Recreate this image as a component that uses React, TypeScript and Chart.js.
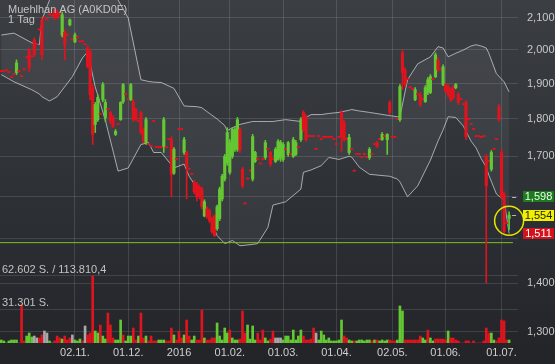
import React, { useEffect, useRef } from 'react';
import { Chart, registerables } from 'chart.js';

Chart.register(...registerables);

// ---------- DATA ----------
const title = 'Muehlhan AG (A0KD0F)';
const subtitle = '1 Tag';

const tickIdx = [29, 50, 70, 90, 111, 132, 154, 175, 197];
const tickLabels = ['02.11.', '01.12.', '2016', '01.02.', '01.03.', '01.04.', '02.05.', '01.06.', '01.07.'];

const priceTicks = [1.3, 1.4, 1.5, 1.6, 1.7, 1.8, 1.9, 2.0, 2.1];
const hiddenPriceLabels = [1.5, 1.6];

const volTicks = [31301, 62602];
const volLabels = ['31.301 S.', '62.602 S. / 113.810,4'];

const supportLevel = 1.49;

const openP = [
  1.935, 1.935, 1.938, 1.932, 1.917, 1.926, 1.932, 1.935, 1.920, 1.940,
  1.976, 2.000, 1.979, 2.031, 2.016, 2.062, 2.094, 2.100, 2.094, 2.110,
  2.107, 2.126, 2.119, 2.110, 2.046, 2.055, 2.046, 2.078, 2.031, 2.025,
  2.037, 2.025, 2.025, 2.016, 2.006, 1.994, 1.888, 1.785, 1.798, 1.812,
  1.854, 1.804, 1.826, 1.818, 1.804, 1.758, 1.785, 1.798, 1.848, 1.868,
  1.854, 1.854, 1.848, 1.826, 1.793, 1.818, 1.771, 1.736, 1.731, 1.726,
  1.793, 1.723, 1.723, 1.723, 1.726, 1.723, 1.744, 1.744, 1.657, 1.692,
  1.771, 1.771, 1.710, 1.710, 1.667, 1.654, 1.634, 1.630, 1.622, 1.617,
  1.552, 1.569, 1.564, 1.546, 1.552, 1.522, 1.546, 1.593, 1.642, 1.684,
  1.659, 1.700, 1.718, 1.718, 1.771, 1.667, 1.581, 1.642, 1.662, 1.642,
  1.687, 1.692, 1.680, 1.692, 1.697, 1.718, 1.710, 1.692, 1.687, 1.692,
  1.697, 1.692, 1.718, 1.705, 1.705, 1.700, 1.705, 1.723, 1.744, 1.818,
  1.806, 1.752, 1.752, 1.752, 1.718, 1.752, 1.744, 1.750, 1.750, 1.750,
  1.750, 1.744, 1.731, 1.750, 1.818, 1.790, 1.744, 1.710, 1.718, 1.662,
  1.705, 1.705, 1.697, 1.705, 1.697, 1.697, 1.705, 1.731, 1.736, 1.744,
  1.744, 1.752, 1.744, 1.846, 1.750, 1.750, 1.798, 1.798, 1.991, 1.940,
  1.911, 1.888, 1.882, 1.854, 1.868, 1.868, 1.854, 1.848, 1.874, 1.874,
  1.911, 1.920, 1.970, 1.940, 1.897, 1.897, 1.891, 1.882, 1.888, 1.888,
  1.868, 1.854, 1.840, 1.846, 1.798, 1.785, 1.771, 1.752, 1.752, 1.750,
  1.752, 1.700, 1.687, 1.667, 1.718, 1.744, 1.834, 1.710, 1.605, 1.534,
  1.546,
];

const highP = [
  1.935, 1.935, 1.938, 1.932, 1.917, 1.926, 1.970, 1.935, 1.920, 1.940,
  1.976, 2.006, 1.979, 2.037, 2.016, 2.062, 2.100, 2.100, 2.094, 2.110,
  2.107, 2.132, 2.126, 2.110, 2.119, 2.062, 2.046, 2.097, 2.031, 2.052,
  2.037, 2.025, 2.025, 2.016, 2.013, 2.000, 1.897, 1.846, 1.868, 1.812,
  1.903, 1.854, 1.826, 1.821, 1.809, 1.771, 1.785, 1.848, 1.900, 1.868,
  1.854, 1.900, 1.854, 1.829, 1.793, 1.821, 1.776, 1.804, 1.731, 1.726,
  1.793, 1.723, 1.723, 1.723, 1.804, 1.723, 1.744, 1.752, 1.723, 1.692,
  1.771, 1.771, 1.750, 1.713, 1.667, 1.654, 1.639, 1.634, 1.627, 1.622,
  1.591, 1.574, 1.569, 1.550, 1.555, 1.578, 1.622, 1.654, 1.705, 1.776,
  1.744, 1.776, 1.776, 1.804, 1.776, 1.672, 1.581, 1.642, 1.662, 1.758,
  1.713, 1.692, 1.680, 1.692, 1.742, 1.718, 1.713, 1.692, 1.723, 1.744,
  1.742, 1.736, 1.718, 1.739, 1.705, 1.750, 1.742, 1.723, 1.804, 1.823,
  1.812, 1.752, 1.752, 1.752, 1.718, 1.752, 1.744, 1.750, 1.750, 1.750,
  1.750, 1.744, 1.731, 1.750, 1.823, 1.796, 1.744, 1.758, 1.718, 1.662,
  1.705, 1.705, 1.697, 1.705, 1.697, 1.723, 1.705, 1.731, 1.739, 1.744,
  1.763, 1.752, 1.760, 1.851, 1.750, 1.750, 1.798, 1.897, 2.000, 1.946,
  1.911, 1.888, 1.882, 1.888, 1.868, 1.874, 1.854, 1.894, 1.917, 1.926,
  1.911, 1.991, 1.976, 1.940, 1.955, 1.900, 1.897, 1.888, 1.894, 1.900,
  1.874, 1.854, 1.840, 1.851, 1.798, 1.785, 1.771, 1.752, 1.752, 1.750,
  1.752, 1.705, 1.687, 1.715, 1.718, 1.744, 1.840, 1.718, 1.610, 1.534,
  1.562,
];

const lowP = [
  1.935, 1.935, 1.938, 1.932, 1.917, 1.926, 1.926, 1.935, 1.920, 1.940,
  1.976, 1.935, 1.979, 1.979, 2.016, 2.062, 1.970, 2.100, 2.094, 2.110,
  2.107, 2.094, 2.100, 2.110, 2.040, 1.970, 2.046, 2.075, 2.031, 2.022,
  2.037, 2.025, 2.025, 2.016, 1.946, 1.854, 1.731, 1.763, 1.793, 1.812,
  1.848, 1.793, 1.826, 1.787, 1.776, 1.755, 1.785, 1.796, 1.843, 1.868,
  1.854, 1.851, 1.793, 1.796, 1.793, 1.758, 1.736, 1.731, 1.731, 1.726,
  1.793, 1.723, 1.723, 1.723, 1.710, 1.723, 1.744, 1.598, 1.654, 1.692,
  1.771, 1.771, 1.705, 1.593, 1.667, 1.654, 1.605, 1.588, 1.593, 1.569,
  1.550, 1.546, 1.536, 1.511, 1.504, 1.518, 1.541, 1.588, 1.637, 1.677,
  1.654, 1.695, 1.713, 1.713, 1.710, 1.620, 1.581, 1.642, 1.662, 1.637,
  1.684, 1.692, 1.680, 1.692, 1.692, 1.718, 1.674, 1.692, 1.684, 1.690,
  1.687, 1.687, 1.718, 1.700, 1.705, 1.697, 1.702, 1.723, 1.739, 1.766,
  1.739, 1.752, 1.752, 1.752, 1.718, 1.752, 1.744, 1.750, 1.750, 1.750,
  1.750, 1.744, 1.731, 1.750, 1.713, 1.739, 1.744, 1.705, 1.718, 1.662,
  1.705, 1.705, 1.697, 1.705, 1.697, 1.692, 1.705, 1.731, 1.723, 1.744,
  1.742, 1.752, 1.705, 1.812, 1.750, 1.750, 1.798, 1.793, 1.882, 1.891,
  1.911, 1.888, 1.882, 1.851, 1.868, 1.834, 1.854, 1.846, 1.868, 1.871,
  1.911, 1.917, 1.935, 1.940, 1.894, 1.874, 1.862, 1.848, 1.854, 1.885,
  1.840, 1.854, 1.840, 1.744, 1.798, 1.785, 1.771, 1.752, 1.752, 1.750,
  1.752, 1.401, 1.687, 1.662, 1.718, 1.744, 1.793, 1.593, 1.511, 1.534,
  1.520,
];

const closeP = [
  1.935, 1.935, 1.938, 1.932, 1.917, 1.926, 1.961, 1.935, 1.920, 1.940,
  1.976, 1.946, 1.979, 1.985, 2.016, 2.062, 1.985, 2.100, 2.094, 2.110,
  2.107, 2.100, 2.100, 2.110, 2.110, 2.016, 2.046, 2.094, 2.031, 2.046,
  2.037, 2.025, 2.025, 2.016, 1.949, 1.868, 1.758, 1.840, 1.860, 1.812,
  1.897, 1.846, 1.826, 1.793, 1.779, 1.766, 1.785, 1.846, 1.897, 1.868,
  1.854, 1.897, 1.798, 1.798, 1.793, 1.763, 1.739, 1.798, 1.731, 1.726,
  1.793, 1.723, 1.723, 1.723, 1.798, 1.723, 1.744, 1.654, 1.718, 1.692,
  1.771, 1.771, 1.744, 1.674, 1.667, 1.654, 1.610, 1.598, 1.598, 1.574,
  1.586, 1.550, 1.541, 1.515, 1.506, 1.574, 1.617, 1.649, 1.700, 1.763,
  1.736, 1.771, 1.771, 1.798, 1.718, 1.625, 1.581, 1.642, 1.662, 1.752,
  1.710, 1.692, 1.680, 1.692, 1.736, 1.718, 1.680, 1.692, 1.718, 1.739,
  1.736, 1.731, 1.718, 1.736, 1.705, 1.744, 1.736, 1.723, 1.798, 1.771,
  1.744, 1.752, 1.752, 1.752, 1.718, 1.752, 1.744, 1.750, 1.750, 1.750,
  1.750, 1.744, 1.731, 1.750, 1.750, 1.744, 1.744, 1.750, 1.718, 1.662,
  1.705, 1.705, 1.697, 1.705, 1.697, 1.718, 1.705, 1.731, 1.726, 1.744,
  1.758, 1.752, 1.758, 1.818, 1.750, 1.750, 1.798, 1.891, 1.932, 1.897,
  1.911, 1.888, 1.882, 1.882, 1.868, 1.840, 1.854, 1.888, 1.911, 1.920,
  1.911, 1.985, 1.940, 1.940, 1.949, 1.877, 1.868, 1.854, 1.860, 1.897,
  1.846, 1.854, 1.840, 1.752, 1.798, 1.785, 1.771, 1.752, 1.752, 1.750,
  1.752, 1.625, 1.687, 1.710, 1.718, 1.744, 1.798, 1.598, 1.515, 1.534,
  1.554,
];

const volume = [
  2800, 1900, 0, 1900, 2800, 2800, 2800, 0, 35500, 1900,
  6500, 9300, 5600, 6500, 4700, 4700, 7500, 11200, 9300, 1900,
  0, 1900, 6500, 4700, 3700, 6500, 2800, 4700, 7500, 2800,
  1900, 3700, 1900, 15900, 7500, 9300, 62602, 11200, 9300, 16800,
  6500, 3700, 28000, 16800, 4700, 2800, 2800, 21500, 7500, 1900,
  6500, 6500, 14000, 2800, 6500, 28000, 4700, 6500, 1900, 6500,
  1900, 1900, 2800, 2800, 2800, 1900, 1900, 14000, 7500, 2800,
  11200, 4700, 7500, 21500, 6500, 2800, 6500, 2800, 2800, 30800,
  4700, 2800, 2800, 4700, 4700, 18700, 6500, 2800, 14000, 9300,
  12100, 4700, 2800, 2800, 3700, 29900, 9300, 16800, 3700, 15900,
  2800, 9300, 2800, 12100, 4700, 1900, 3700, 11200, 4700, 4700,
  4700, 2800, 6500, 6500, 2800, 12100, 2800, 6500, 12100, 6500,
  2800, 2800, 3700, 14000, 9300, 2800, 11200, 7500, 2800, 4700,
  1900, 1900, 1900, 2800, 21500, 6500, 4700, 2800, 1900, 1900,
  1900, 2800, 2800, 1900, 2800, 2800, 1900, 2800, 2800, 1900,
  2800, 1900, 2800, 2800, 1900, 1900, 2800, 34600, 29900, 2800,
  2800, 2800, 2800, 2800, 2800, 6500, 4700, 2800, 12100, 4700,
  1900, 3700, 3700, 3700, 3700, 2800, 11200, 4700, 4700, 2800,
  1900, 0, 0, 1900, 1900, 0, 1900, 0, 0, 0,
  1900, 14000, 9300, 9300, 2800, 1900, 4700, 21500, 20600, 2800,
  2800,
];

// 1 = up (green), -1 = down (red), 0 = unchanged (grey)
const volDir = [
  1, 1, 1, 1, 1, 1, 1, -1, -1, -1,
  1, 1, 1, 0, 0, -1, -1, 0, 0, 1,
  1, -1, -1, -1, 1, -1, -1, -1, 0, 1,
  1, 1, -1, 0, -1, -1, -1, 1, 1, -1,
  1, 1, -1, -1, -1, 1, 1, 1, -1, 1,
  1, 1, -1, -1, 1, -1, -1, 1, -1, -1,
  -1, -1, 1, 1, 1, -1, -1, -1, 1, -1,
  -1, -1, 1, -1, -1, 1, 1, -1, -1, -1,
  1, -1, -1, -1, -1, 1, 1, 1, 1, 1,
  -1, 1, 1, 1, -1, -1, -1, 1, 1, 1,
  1, -1, -1, -1, 1, 1, -1, -1, 0, 0,
  0, 1, 1, 1, 1, 1, 1, 1, 1, -1,
  -1, -1, -1, -1, 0, 1, 1, 1, 1, 1,
  1, 1, 1, 1, 1, -1, -1, 1, 1, -1,
  1, 1, 1, 1, 1, 1, -1, 1, -1, 1,
  1, 1, 1, -1, -1, -1, 1, 1, 1, -1,
  -1, -1, -1, -1, -1, -1, 1, 1, -1, 1,
  1, -1, -1, -1, -1, -1, 1, -1, -1, -1,
  -1, -1, -1, -1, -1, -1, -1, -1, -1, -1,
  -1, -1, -1, 1, 1, -1, -1, -1, -1, -1,
  1,
];

// Bollinger band read at selected days
const bandIdx = [
  0, 5, 12, 15, 16, 19, 22, 28, 32, 34, 37, 41, 46, 50, 55, 58, 60, 63, 68, 72,
  74, 77, 79, 82, 85, 88, 89, 91, 94, 99, 101, 105, 107, 112, 118, 119, 122, 126, 129, 133,
  137, 138, 141, 145, 153, 156, 157, 160, 164, 169, 172, 174, 176, 179, 182, 185, 187, 189, 191, 192,
  195, 198, 200,
];
const bandUpper = [
  2.046, 2.052, 2.022, 2.016, 2.094, 2.158, 2.230, 2.290, 2.300, 2.290, 2.280, 2.250, 2.158, 2.100, 1.911, 1.906, 1.904, 1.903, 1.886, 1.836,
  1.835, 1.834, 1.831, 1.815, 1.800, 1.782, 1.768, 1.776, 1.785, 1.793, 1.793, 1.793, 1.793, 1.798, 1.793, 1.800, 1.812, 1.812, 1.815, 1.818,
  1.824, 1.826, 1.822, 1.818, 1.809, 1.806, 1.806, 1.911, 1.958, 1.979, 2.010, 2.006, 1.979, 1.990, 2.000, 2.012, 2.016, 2.012, 2.006, 1.990,
  1.929, 1.905, 1.876,
];
const bandLower = [
  1.926, 1.905, 1.882, 1.870, 1.862, 1.850, 1.862, 1.920, 1.976, 1.994, 1.890, 1.796, 1.662, 1.670, 1.731, 1.736, 1.710, 1.710, 1.670, 1.680,
  1.649, 1.620, 1.595, 1.552, 1.506, 1.488, 1.490, 1.495, 1.483, 1.486, 1.488, 1.525, 1.578, 1.586, 1.617, 1.659, 1.665, 1.676, 1.697, 1.692,
  1.700, 1.698, 1.672, 1.654, 1.649, 1.642, 1.635, 1.598, 1.625, 1.690, 1.740, 1.770, 1.806, 1.804, 1.780, 1.740, 1.722, 1.694, 1.672, 1.652,
  1.605, 1.590, 1.511,
];

const badges = [
  { value: 1.598, bg: '#1d7a1d', fg: '#eaffea', mark: true },
  { value: 1.554, bg: '#f0f000', fg: '#222222', mark: true },
  { value: 1.511, bg: '#d3121c', fg: '#ffffff', mark: false },
];

// ---------- STYLE ----------
const GREEN = '#64c832';
const RED = '#e0141e';
const GREY = '#a8a8a8';
const BAND = 'rgba(205,208,212,0.75)';
const GRID = 'rgba(255,255,255,0.12)';
const FONT = 'Arial, "Liberation Sans", sans-serif';

const fmtPrice = (v: number) => v.toFixed(3).replace('.', ',');

const decorPlugin = {
  id: 'decor',
  beforeDraw(chart: any) {
    const { ctx, width, height } = chart;
    const g = ctx.createLinearGradient(0, 0, 0, height);
    g.addColorStop(0, '#3b3f44');
    g.addColorStop(0.55, '#2d3035');
    g.addColorStop(1, '#222428');
    ctx.save();
    ctx.fillStyle = g;
    ctx.fillRect(0, 0, width, height);
    ctx.restore();
  },
  afterDraw(chart: any) {
    const { ctx, scales, chartArea } = chart;
    const x = scales.x;
    const y = scales.y;
    const y2 = scales.y2;
    ctx.save();
    ctx.font = '11px ' + FONT;
    ctx.fillStyle = '#c2c2c2';
    ctx.textAlign = 'left';
    ctx.textBaseline = 'alphabetic';
    ctx.fillText(title, 8, 13);
    ctx.fillText(subtitle, 8, 23);
    volTicks.forEach((v, k) => {
      ctx.fillText(volLabels[k], 2, y2.getPixelForValue(v) - 3);
    });

    const last = closeP.length - 1;
    const cx = x.getPixelForValue(last);
    const cy = y.getPixelForValue(Math.sqrt(highP[last] * lowP[last]));
    ctx.strokeStyle = '#e4e400';
    ctx.lineWidth = 1.5;
    ctx.beginPath();
    ctx.arc(cx, cy, 14.5, 0, Math.PI * 2);
    ctx.stroke();

    badges.forEach((b) => {
      const py = y.getPixelForValue(b.value);
      if (b.mark) {
        ctx.strokeStyle = '#b8b8b8';
        ctx.lineWidth = 1;
        ctx.beginPath();
        ctx.moveTo(cx + 3, Math.round(py) + 0.5);
        ctx.lineTo(cx + 7, Math.round(py) + 0.5);
        ctx.stroke();
      }
      const bx = chartArea.right + 5;
      ctx.fillStyle = b.bg;
      ctx.fillRect(bx, Math.round(py - 5.5), 31, 11);
      ctx.fillStyle = b.fg;
      ctx.textAlign = 'center';
      ctx.textBaseline = 'middle';
      ctx.fillText(fmtPrice(b.value), bx + 15.5, py + 0.5);
    });
    ctx.restore();
  },
};

export default function App() {
  const ref = useRef<HTMLCanvasElement>(null);

  useEffect(() => {
    document.body.style.margin = '0';
    const canvas = ref.current as HTMLCanvasElement;
    const idx = closeP.map((_, i) => i);
    const candleColor = idx.map((i) => (closeP[i] > openP[i] ? GREEN : RED));
    const volColor = volDir.map((d) => (d > 0 ? GREEN : d < 0 ? RED : GREY));
    const lastIdx = closeP.length - 1;

    const chart = new Chart(canvas, {
      type: 'bar',
      data: {
        datasets: [
          {
            type: 'line',
            label: 'BB oben',
            data: bandIdx.map((v, k) => ({ x: v, y: bandUpper[k] })),
            borderColor: BAND,
            borderWidth: 1,
            pointRadius: 0,
            fill: false,
            tension: 0,
            yAxisID: 'y',
            order: 10,
          },
          {
            type: 'line',
            label: 'BB unten',
            data: bandIdx.map((v, k) => ({ x: v, y: bandLower[k] })),
            borderColor: BAND,
            borderWidth: 1,
            pointRadius: 0,
            fill: '-1',
            backgroundColor: 'rgba(255,255,255,0.055)',
            tension: 0,
            yAxisID: 'y',
            order: 9,
          },
          {
            type: 'bar',
            label: 'Volumen',
            data: idx.map((i) => ({ x: i, y: volume[i] })),
            backgroundColor: volColor,
            barThickness: 2,
            grouped: false,
            yAxisID: 'y2',
            order: 8,
          },
          {
            type: 'line',
            label: 'Linie',
            data: [
              { x: -0.5, y: supportLevel },
              { x: lastIdx + 1.5, y: supportLevel },
            ],
            borderColor: '#7cc41e',
            borderWidth: 1,
            pointRadius: 0,
            yAxisID: 'y',
            order: 7,
          },
          {
            type: 'bar',
            label: 'Docht',
            data: idx.map((i) => ({ x: i, y: [lowP[i], highP[i]] })),
            backgroundColor: candleColor,
            barThickness: 1,
            minBarLength: 1,
            grouped: false,
            yAxisID: 'y',
            order: 2,
          },
          {
            type: 'bar',
            label: 'Kerze',
            data: idx.map((i) => ({
              x: i,
              y: [Math.min(openP[i], closeP[i]), Math.max(openP[i], closeP[i])],
            })),
            backgroundColor: candleColor,
            barThickness: 2.5,
            minBarLength: 1,
            grouped: false,
            yAxisID: 'y',
            order: 1,
          },
        ],
      } as any,
      options: {
        responsive: false,
        animation: false,
        devicePixelRatio: 1,
        layout: { padding: 0, autoPadding: false },
        plugins: {
          legend: { display: false },
          tooltip: { enabled: false },
        },
        scales: {
          x: {
            type: 'linear',
            min: -0.5,
            max: 203.5,
            offset: false,
            bounds: 'data',
            grid: { color: GRID, drawTicks: false, offset: false },
            border: { display: false },
            ticks: {
              autoSkip: false,
              maxRotation: 0,
              padding: 3,
              color: '#cfcfcf',
              font: { size: 11, family: FONT },
              callback: (v: any) => {
                const k = tickIdx.indexOf(Number(v));
                return k >= 0 ? tickLabels[k] : '';
              },
            },
            afterBuildTicks: (s: any) => {
              s.ticks = tickIdx.map((v) => ({ value: v }));
            },
            afterFit: (s: any) => {
              s.height = 21;
              s.paddingLeft = 0;
              s.paddingRight = 0;
            },
          },
          y: {
            type: 'logarithmic',
            position: 'right',
            min: 1.2783,
            max: 2.1585,
            bounds: 'data',
            grid: { color: GRID, drawTicks: false },
            border: { display: false },
            ticks: {
              padding: 9,
              color: '#c8c8c8',
              font: { size: 11, family: FONT },
              callback: (v: any) => {
                const n = Number(v);
                if (hiddenPriceLabels.some((h) => Math.abs(h - n) < 1e-6)) return '';
                return fmtPrice(n);
              },
            },
            afterBuildTicks: (s: any) => {
              s.ticks = priceTicks.map((v) => ({ value: v }));
            },
            afterFit: (s: any) => {
              s.width = 37;
              s.paddingTop = 0;
              s.paddingBottom = 0;
            },
          },
          y2: {
            type: 'linear',
            position: 'left',
            min: 0,
            max: 320480,
            bounds: 'data',
            grid: { color: GRID, drawTicks: false },
            border: { display: false },
            ticks: { display: false },
            afterBuildTicks: (s: any) => {
              s.ticks = volTicks.map((v) => ({ value: v }));
            },
            afterFit: (s: any) => {
              s.width = 0;
              s.paddingTop = 0;
              s.paddingBottom = 0;
            },
          },
        },
      } as any,
      plugins: [decorPlugin],
    });

    return () => chart.destroy();
  }, []);

  return (
    <div style={{ width: 555, height: 364 }}>
      <canvas ref={ref} width={555} height={364} style={{ display: 'block', width: 555, height: 364 }} />
    </div>
  );
}
